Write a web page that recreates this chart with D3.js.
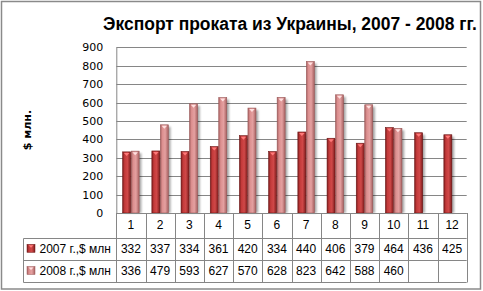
<!DOCTYPE html>
<html><head><meta charset="utf-8">
<script src="https://cdn.jsdelivr.net/npm/d3@7"></script>
<style>body{margin:0;background:#fff}svg{display:block}</style>
</head><body>
<script>
const categories = ["1","2","3","4","5","6","7","8","9","10","11","12"];
const seriesNames = ["2007 г.,$ млн","2008 г.,$ млн"];
const values2007 = [332,337,334,361,420,334,440,406,379,464,436,425];
const values2008 = [336,479,593,627,570,628,823,642,588,460,null,null];
const yTicks = [0,100,200,300,400,500,600,700,800,900];
const title = "Экспорт проката из Украины, 2007 - 2008 гг.";
const yTitle = "$ млн.";

const W = 483, H = 291;
const svg = d3.select("body").append("svg").attr("width", W).attr("height", H);
const defs = svg.append("defs");

const palettes = [
  {edge:"#7e1c1c", mid:"#c33a3a", light:"#d04848", tri:"#ff7a7a", stroke:"#6e1515"},
  {edge:"#a86262", mid:"#dc8f8f", light:"#e4a0a0", tri:"#ffe0e0", stroke:"#9a5858"}
];
palettes.forEach((p,i)=>{
  const g = defs.append("linearGradient").attr("id","g"+i).attr("x1","0").attr("x2","1").attr("y1","0").attr("y2","0");
  g.append("stop").attr("offset","0").attr("stop-color",p.edge);
  g.append("stop").attr("offset","0.25").attr("stop-color",p.mid);
  g.append("stop").attr("offset","0.6").attr("stop-color",p.light);
  g.append("stop").attr("offset","1").attr("stop-color",p.edge);
});
const f = defs.append("filter").attr("id","sh").attr("x","-50%").attr("y","-10%").attr("width","200%").attr("height","130%");
f.append("feGaussianBlur").attr("stdDeviation",1.2);

// outer border
svg.append("rect").attr("x",1.5).attr("y",1.5).attr("width",479).attr("height",287.5)
  .attr("fill","#fff").attr("stroke","#8a8a8a").attr("stroke-width",1.5);

const x0 = 116.3, x1 = 466.7, yTop = 47.3, yBot = 213;
const x = d3.scaleBand().domain(categories).range([x0,x1]).padding(0);
const xs = d3.scaleBand().domain(seriesNames).range([0,x.bandwidth()]).paddingInner(0).paddingOuter(0.72);
const y = d3.scaleLinear().domain([0,900]).range([yBot,yTop]);

// gridlines
svg.append("g").selectAll("line").data(yTicks).join("line")
  .attr("x1",x0).attr("x2",x1).attr("y1",d=>Math.round(y(d))+0.5).attr("y2",d=>Math.round(y(d))+0.5)
  .attr("stroke","#868686").attr("stroke-width",1);

// y axis
const yAxis = svg.append("g").attr("transform",`translate(${x0},0)`)
  .call(d3.axisLeft(y).tickValues(yTicks).tickSize(0).tickPadding(13));
yAxis.select(".domain").attr("stroke","#868686");
yAxis.selectAll("text").attr("font-family","DejaVu Sans, Verdana, sans-serif").attr("font-size","11px").attr("fill","#000");

// y title
svg.append("text").attr("transform",`translate(31,130) rotate(-90)`).attr("text-anchor","middle")
  .attr("font-family","DejaVu Sans, Verdana, sans-serif").attr("font-weight","bold").attr("font-size","11px").text(yTitle);

// title
const t = svg.append("text").attr("x",290).attr("y",30).attr("text-anchor","middle")
  .attr("font-family","Liberation Sans, Arial, sans-serif").attr("font-weight","bold").attr("font-size","17px").text(title);
const tl = t.node().getComputedTextLength();
t.attr("font-size", (17*374/tl).toFixed(2)+"px");

// bars
const series = [values2007, values2008];
series.forEach((vals,si)=>{
  const p = palettes[si];
  const data = categories.map((c,i)=>({c, v: vals[i]})).filter(d=>d.v!=null);
  const g = svg.append("g");
  g.selectAll("rect.sh").data(data).join("rect")
    .attr("x",d=>x(d.c)+xs(seriesNames[si])+2).attr("y",d=>y(d.v)+2)
    .attr("width",xs.bandwidth()).attr("height",d=>yBot-y(d.v)-2)
    .attr("fill","#000").attr("opacity",0.35).attr("filter","url(#sh)");
  g.selectAll("rect.b").data(data).join("rect")
    .attr("x",d=>x(d.c)+xs(seriesNames[si])+0.25).attr("y",d=>y(d.v))
    .attr("width",xs.bandwidth()-0.5).attr("height",d=>yBot-y(d.v))
    .attr("fill",`url(#g${si})`).attr("stroke",p.stroke).attr("stroke-width",0.6);
  g.selectAll("path.tri").data(data).join("path")
    .attr("d",d=>{
      const bx = x(d.c)+xs(seriesNames[si]), bw = xs.bandwidth(), by = y(d.v);
      return `M${bx+1.5},${by+1} L${bx+bw-1.5},${by+1} L${bx+bw/2},${by+4} Z`;
    }).attr("fill",p.tri);
});

// data table
const rowY = [yBot, 237.7, 260, 282];
const tg = svg.append("g");
const tblStroke = "#868686";
tg.append("line").attr("x1",x0).attr("x2",x1).attr("y1",yBot+0.5).attr("y2",yBot+0.5).attr("stroke",tblStroke);
[rowY[1],rowY[2],rowY[3]].forEach(yy=>{
  tg.append("line").attr("x1",23.5).attr("x2",x1).attr("y1",Math.round(yy)+0.5).attr("y2",Math.round(yy)+0.5).attr("stroke",tblStroke);
});
const bounds = categories.map(c=>x(c)).concat([x1]);
tg.selectAll("line.v").data(bounds).join("line")
  .attr("x1",d=>Math.round(d)+0.5).attr("x2",d=>Math.round(d)+0.5)
  .attr("y1",yBot).attr("y2",Math.round(rowY[3])+0.5).attr("stroke",tblStroke);
tg.append("line").attr("x1",23.5).attr("x2",23.5).attr("y1",Math.round(rowY[1])+0.5).attr("y2",Math.round(rowY[3])+0.5).attr("stroke",tblStroke);

const tf = "Liberation Sans, Arial, sans-serif";
const fs = "12px";
tg.selectAll("text.h").data(categories).join("text")
  .attr("x",d=>x(d)+x.bandwidth()/2).attr("y",(rowY[0]+rowY[1])/2+4)
  .attr("text-anchor","middle").attr("font-family",tf).attr("font-size",fs).text(d=>d);
series.forEach((vals,si)=>{
  const cy = (rowY[si+1]+rowY[si+2])/2;
  tg.selectAll("text.r"+si).data(categories.map((c,i)=>({c,v:vals[i]})).filter(d=>d.v!=null)).join("text")
    .attr("x",d=>x(d.c)+x.bandwidth()/2).attr("y",cy+4.2)
    .attr("text-anchor","middle").attr("font-family",tf).attr("font-size",fs).text(d=>d.v);
  tg.append("rect").attr("x",27).attr("y",cy-4.5).attr("width",8).attr("height",8)
    .attr("fill",`url(#g${si})`).attr("stroke",palettes[si].stroke).attr("stroke-width",0.5);
  tg.append("path").attr("d",`M28.5,${cy-3.5} L33.5,${cy-3.5} L31,${cy-1} Z`).attr("fill",palettes[si].tri);
  tg.append("text").attr("x",39.5).attr("y",cy+4.2).attr("font-family",tf).attr("font-size",fs).text(seriesNames[si]);
});
</script>
</body></html>
